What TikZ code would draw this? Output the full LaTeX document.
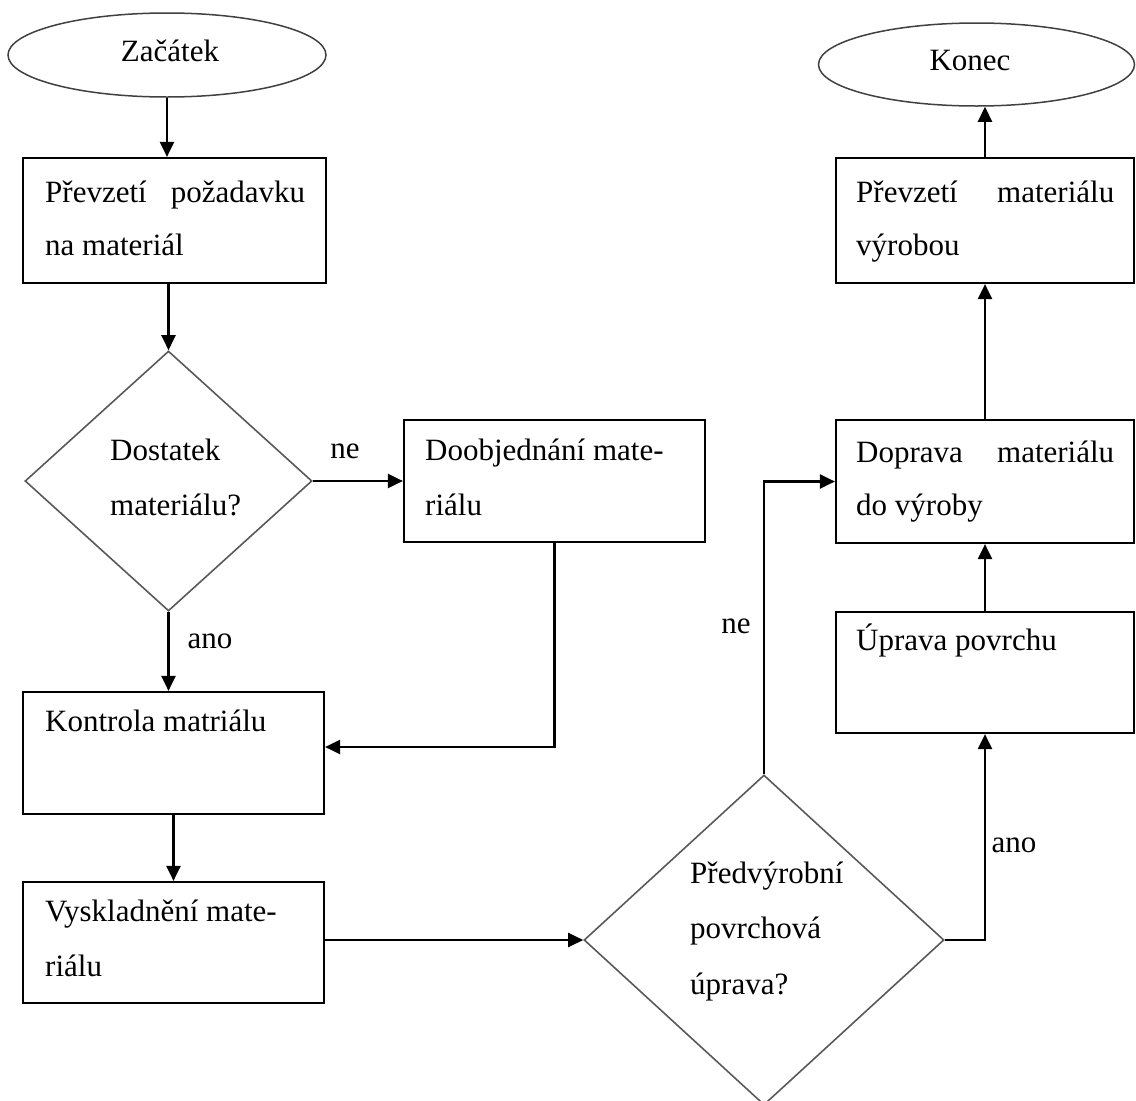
\documentclass[tikz,border=0pt]{standalone}
\usepackage{fontspec}
\setmainfont{Liberation Serif}
\usetikzlibrary{shapes.geometric,arrows.meta}
\begin{document}
\begin{tikzpicture}[x=1pt,y=-1pt,
  every node/.style={font=\fontsize{31}{36}\selectfont},
  box/.style={draw=black, line width=2.2pt, rectangle, inner sep=0pt},
  term/.style={draw=black!75, line width=1.5pt, ellipse, inner sep=0pt},
  decision/.style={draw=black!65, line width=1.6pt, diamond, inner sep=0pt},
  txt/.style={anchor=base west, inner sep=0pt},
  lbl/.style={anchor=base, inner sep=0pt},
  arr/.style={line width=2.2pt, -{Triangle[length=15pt,width=14pt]}}]
\useasboundingbox (0,0) rectangle (1136,1101);

% shapes
\node[term, minimum width=318pt, minimum height=84pt] (zac) at (167,55) {};
\node[term, minimum width=316pt, minimum height=83pt] (endn) at (976.5,64.5) {};
\node[box, minimum width=303pt, minimum height=125pt] (p1) at (174.5,220.5) {};
\node[decision, minimum width=287pt, minimum height=260pt] (d1) at (168.5,481) {};
\node[box, minimum width=301pt, minimum height=122pt] (dob) at (554.5,481) {};
\node[box, minimum width=301pt, minimum height=122pt] (kon) at (173.5,753) {};
\node[box, minimum width=301pt, minimum height=121pt] (vys) at (173.5,942.5) {};
\node[decision, minimum width=360pt, minimum height=330pt] (d2) at (764,940) {};
\node[box, minimum width=298pt, minimum height=121pt] (upr) at (985,672.5) {};
\node[box, minimum width=298pt, minimum height=123pt] (dop) at (985,481.5) {};
\node[box, minimum width=298pt, minimum height=125pt] (pm) at (985,220.5) {};

% texts
\node[lbl] (tzac) at (170,61) {Začátek};
\node[lbl] (tend) at (970,70) {Konec};
\node[txt] (tp1a) at (45,202) {\hbox to 260pt{Převzetí\hfill požadavku}};
\node[txt] (tp1b) at (45,255) {na materiál};
\node[txt] (td1a) at (110,460) {Dostatek};
\node[txt] (td1b) at (110,515) {materiálu?};
\node[txt] (tdoba) at (425,460) {Doobjednání mate-};
\node[txt] (tdobb) at (425,515) {riálu};
\node[txt] (tkon) at (45,731) {Kontrola matriálu};
\node[txt] (tvysa) at (45,921) {Vyskladnění mate-};
\node[txt] (tvysb) at (45,976) {riálu};
\node[txt] (td2a) at (690,883) {Předvýrobní};
\node[txt] (td2b) at (690,938) {povrchová};
\node[txt] (td2c) at (690,994) {úprava?};
\node[txt] (tupr) at (856,650) {Úprava povrchu};
\node[txt] (tdopa) at (856,462) {\hbox to 258pt{Doprava\hfill materiálu}};
\node[txt] (tdopb) at (856,515) {do výroby};
\node[txt] (tpma) at (856,202) {\hbox to 258pt{Převzetí\hfill materiálu}};
\node[txt] (tpmb) at (856,255) {výrobou};

% branch labels
\node[lbl] (ne1) at (345,458) {ne};
\node[lbl] (ano1) at (210,648) {ano};
\node[lbl] (ne2) at (736,633) {ne};
\node[lbl] (ano2) at (1014,852) {ano};

% connectors
\draw[arr] (zac.south) -- (zac.south |- p1.north);
\draw[arr] (p1.south -| d1.north) -- (d1.north);
\draw[arr] (d1.east) -- (d1.east -| dob.west);
\draw[arr] (dob.south) |- ([yshift=6pt]kon.east);
\draw[arr] (d1.south) -- (d1.south |- kon.north);
\draw[arr] (kon.south) -- (vys.north);
\draw[arr] (vys.east |- d2.west) -- (d2.west);
\draw[arr] (d2.north) |- (dop.west);
\draw[arr] (d2.east) -| (upr.south);
\draw[arr] (upr.north) -- (dop.south);
\draw[arr] (dop.north) -- (pm.south);
\draw[arr] (pm.north) -- (pm.north |- endn.south);
\end{tikzpicture}
\end{document}
